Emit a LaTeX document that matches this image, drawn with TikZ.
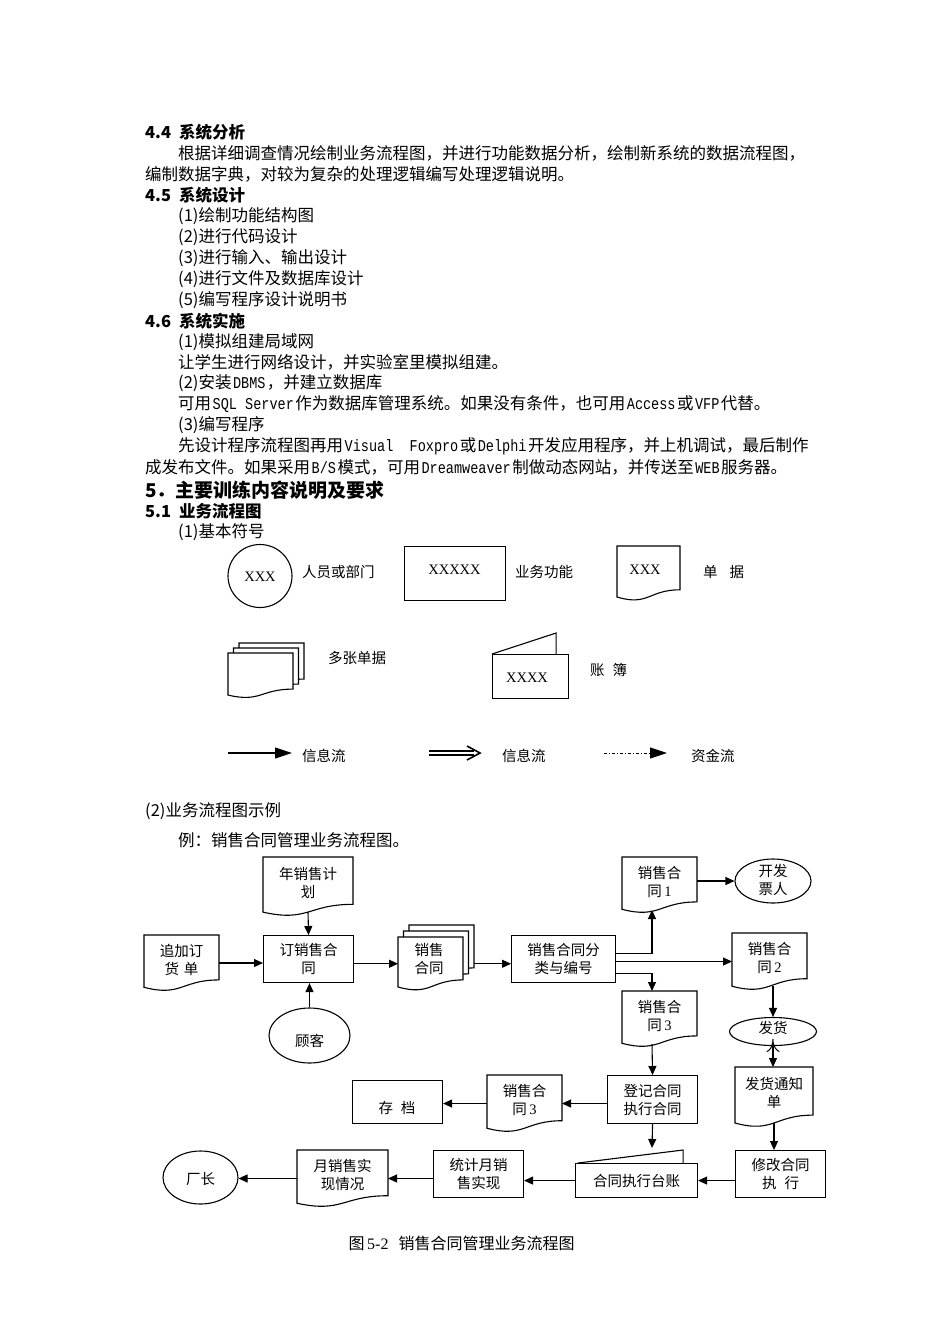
\documentclass[tikz,border=0pt]{standalone}
\usepackage{fontspec}
\setmainfont{Noto Sans CJK SC}
\newfontfamily\lserif{Liberation Serif}
\newfontfamily\lmono{Liberation Mono}[Scale=1.0, FakeStretch=0.82]
\usetikzlibrary{arrows.meta,calc,shapes.geometric}
\newcommand\mtx[1]{\hspace{1.5pt}{\lmono #1}\hspace{1.5pt}}
\newcommand\dfont{\fontsize{14.5}{18}\selectfont}
\newcommand\docout[1]{\draw[line width=1.1pt, fill=white] (#1.north west) -- (#1.north east) -- ($(#1.north east)!0.802!(#1.south east)$) .. controls ($(#1.north)!0.802!(#1.south)$) and ($(#1.north)!1.107!(#1.south)$) .. ($(#1.north west)!0.934!(#1.south west)$) -- cycle;}
\newcommand\docnode[6]{%
  \node[docbase, minimum width=#4pt, minimum height=#5pt, anchor=north west] (#1) at (#2,#3) {};
  \docout{#1}
  \node[dtext] (#1-t) at ($(#1.north)!0.44!(#1.south)$) {#6};}
\tikzset{
  body/.style={anchor=west, inner sep=0, font=\fontsize{16.5}{20}\selectfont},
  hd/.style={anchor=west, inner sep=0, font=\fontsize{16.5}{20}\selectfont\bfseries},
  docbase/.style={inner sep=0, outer sep=0, draw=none},
  dtext/.style={inner sep=0, align=center, font=\dfont},
  box/.style={draw, line width=1.1pt, inner sep=0, align=center, font=\dfont, fill=white, anchor=north west},
  ell/.style={ellipse, draw, line width=1.1pt, inner sep=0},
  lab/.style={anchor=west, inner sep=0, font=\dfont},
  xx/.style={inner sep=0, font=\lserif\fontsize{14.5}{18}\selectfont},
  arr/.style={line width=1.1pt, -{Triangle[length=9pt,width=8pt]}},
  captext/.style={inner sep=0, font=\fontsize{16}{20}\selectfont}
}
\begin{document}
\begin{tikzpicture}[x=1pt, y=-1pt]
\useasboundingbox (0,0) rectangle (950,1344);
% ---------------- body text ----------------
\node[hd] (t1) at (145,132) {4.4\hspace{8pt}系统分析};
\node[body] (t2) at (178,153) {根据详细调查情况绘制业务流程图，并进行功能数据分析，绘制新系统的数据流程图，};
\node[body] (t3) at (145,174) {编制数据字典，对较为复杂的处理逻辑编写处理逻辑说明。};
\node[hd] (t4) at (145,195) {4.5\hspace{8pt}系统设计};
\node[body] (t5) at (178,216) {(1)绘制功能结构图};
\node[body] (t6) at (178,237) {(2)进行代码设计};
\node[body] (t7) at (178,258) {(3)进行输入、输出设计};
\node[body] (t8) at (178,279) {(4)进行文件及数据库设计};
\node[body] (t9) at (178,300) {(5)编写程序设计说明书};
\node[hd] (t10) at (145,321) {4.6\hspace{8pt}系统实施};
\node[body] (t11) at (178,342) {(1)模拟组建局域网};
\node[body] (t12) at (178,362) {让学生进行网络设计，并实验室里模拟组建。};
\node[body] (t13) at (178,383) {(2)安装\mtx{DBMS}，并建立数据库};
\node[body] (t14) at (178,404) {可用\mtx{SQL Server}作为数据库管理系统。如果没有条件，也可用\mtx{Access}或\mtx{VFP}代替。};
\node[body] (t15) at (178,425) {(3)编写程序};
\node[body] (t16) at (178,446) {先设计程序流程图再用\mtx{Visual\ \ Foxpro}或\mtx{Delphi}开发应用程序，并上机调试，最后制作};
\node[body] (t17) at (145,467) {成发布文件。如果采用\mtx{B/S}模式，可用\mtx{Dreamweaver}制做动态网站，并传送至\mtx{WEB}服务器。};
\node[anchor=west, inner sep=0, font=\fontsize{19}{22}\selectfont\bfseries] (t18) at (145,490) {5．主要训练内容说明及要求};
\node[hd] (t19) at (145,511) {5.1\hspace{8pt}业务流程图};
\node[body] (t20) at (178,532) {(1)基本符号};
% ---------------- basic symbols ----------------
\node[ell, minimum width=64pt, minimum height=63pt] (se) at (260,576) {};
\node[xx] (se-t) at (260,577) {XXX};
\node[lab] (sl1) at (302,572) {人员或部门};
\node[box, minimum width=101pt, minimum height=54pt] (sr) at (404,546) {};
\node[xx] (sr-t) at (454.5,570) {XXXXX};
\node[lab] (sl2) at (515,572) {业务功能};
\node[docbase, minimum width=63pt, minimum height=54.6pt, anchor=north west] (sd) at (617,546) {};
\docout{sd}
\node[xx] (sd-t) at (645,570) {XXX};
\node[lab] (sl3) at (703,572) {单\hspace{12pt}据};
\node[docbase, minimum width=65pt, minimum height=45pt, anchor=north west] (sm3) at (239,643) {};
\docout{sm3}
\node[docbase, minimum width=65pt, minimum height=45pt, anchor=north west] (sm2) at (233.5,648) {};
\docout{sm2}
\node[docbase, minimum width=65pt, minimum height=45pt, anchor=north west] (sm1) at (228,653) {};
\docout{sm1}
\node[lab] (sl4) at (328,658) {多张单据};
\node[box, minimum width=76pt, minimum height=44pt] (sb) at (492,654) {};
\draw[line width=1.1pt] (sb.north west) -- ([xshift=-13pt,yshift=21pt]sb.north east) -- ([xshift=-13pt]sb.north east);
\node[xx] (sb-t) at (527,678) {XXXX};
\node[lab] (sl5) at (590,670) {账\hspace{8pt}簿};
% arrows legend
\coordinate (a1s) at (228,753); \coordinate (a1e) at (292,753);
\draw[line width=1.1pt, -{Triangle[length=17pt,width=11pt]}] (a1s) -- (a1e);
\node[lab] (al1) at (302,756) {信息流};
\coordinate (a2s) at (429,753); \coordinate (a2e) at (480,753);
\draw[line width=1.1pt] ([yshift=2pt]a2s) -- ([xshift=-6pt,yshift=2pt]a2e);
\draw[line width=1.1pt] ([yshift=-2pt]a2s) -- ([xshift=-6pt,yshift=-2pt]a2e);
\draw[line width=1.6pt, line join=miter] ([xshift=-13pt,yshift=7pt]a2e) -- (a2e) -- ([xshift=-13pt,yshift=-7pt]a2e);
\node[lab] (al2) at (502,756) {信息流};
\coordinate (a3s) at (604,753); \coordinate (a3e) at (667,753);
\draw[line width=1pt, dash pattern=on 3pt off 2pt on 1pt off 2pt, -{Triangle[length=17pt,width=11pt]}] (a3s) -- (a3e);
\node[lab] (al3) at (691,756) {资金流};
\node[body] (t21) at (145,811) {(2)业务流程图示例};
\node[body] (t22) at (178,840) {例：销售合同管理业务流程图。};
% ---------------- flowchart ----------------
\docnode{ny}{263}{857}{90}{59}{年销售计\\划}
\docnode{zj}{144}{935}{75}{56}{追加订\\货\hspace{5pt}单}
\node[box, minimum width=90pt, minimum height=47pt] (dx) at (263,935) {订销售合\\同};
\node[ell, minimum width=81pt, minimum height=55pt] (gk) at (309.5,1035.5) {};
\node[dtext] (gk-t) at (309.5,1041) {顾客};
\node[docbase, minimum width=65pt, minimum height=53.5pt, anchor=north west] (mcb) at (409,925) {};
\docout{mcb}
\node[docbase, minimum width=65pt, minimum height=53.5pt, anchor=north west] (mcm) at (403.5,931) {};
\docout{mcm}
\node[docbase, minimum width=65pt, minimum height=53.5pt, anchor=north west] (mcf) at (398,937) {};
\docout{mcf}
\node[dtext] (mcf-t) at (429,959) {销售\\合同};
\node[box, minimum width=104pt, minimum height=47pt] (fl) at (511,935) {销售合同分\\类与编号};
\docnode{d1}{622}{857}{75}{56}{销售合\\同\,{\lserif 1}}
\node[ell, minimum width=76pt, minimum height=44pt] (kf) at (773,881) {};
\node[dtext] (kf-t) at (773,880) {开发\\票人};
\docnode{d2}{732}{933}{75}{57}{销售合\\同\,{\lserif 2}}
\docnode{d3}{622}{991}{75}{56}{销售合\\同\,{\lserif 3}}
\node[ell, minimum width=87pt, minimum height=28pt] (fh) at (773,1031.5) {};
\node[dtext] (fh-t) at (773,1037) {发货\\人};
\docnode{fz}{735}{1067}{78}{60}{发货通知\\单}
\node[box, minimum width=90pt, minimum height=48pt] (dj) at (607,1075) {登记合同\\执行合同};
\docnode{d3b}{487}{1075}{75}{57}{销售合\\同\,{\lserif 3}}
\node[box, minimum width=90pt, minimum height=43pt] (cd) at (352,1080) {};
\node[dtext] (cd-t) at (397,1108) {存\hspace{8pt}档};
\node[box, minimum width=90pt, minimum height=47pt] (xg) at (735,1150) {修改合同\\执\hspace{8pt}行};
\node[box, minimum width=122pt, minimum height=34pt] (tz) at (575,1163) {合同执行台账};
\draw[line width=1.1pt] ([xshift=3pt]tz.north west) -- ([xshift=-15pt,yshift=13pt]tz.north east) -- ([xshift=-15pt]tz.north east);
\coordinate (tzin) at (652,1148);
\node[box, minimum width=90pt, minimum height=47pt] (tj) at (433,1150) {统计月销\\售实现};
\docnode{ys}{297}{1150}{91}{57}{月销售实\\现情况}
\node[ell, minimum width=75pt, minimum height=53pt] (cz) at (200.5,1177.5) {};
\node[dtext] (cz-t) at (200.5,1179) {厂长};
\node[captext] (caption) at (461.5,1243) {图\,{\lserif 5-2}\hspace{10pt}销售合同管理业务流程图};
% connectors
\draw[arr] ($(ny.north)!0.933!(ny.south)$) -- (dx.north);
\draw[arr] (zj.east) -- (zj.east -| dx.west);
\draw[arr] (gk.north) -- (gk.north |- dx.south);
\draw[arr] (mcf.west -| dx.east) -- (mcf.west);
\draw[arr] (mcf.west -| mcb.east) -- (mcf.west -| fl.west);
\draw[arr] ([yshift=5.5pt]fl.east) -| ([xshift=-7.5pt,yshift=3pt]d1.south);
\draw[arr] (d1.east |- kf.west) -- (kf.west);
\draw[arr] (d2.west -| fl.east) -- (d2.west);
\draw[arr] ([yshift=-14.5pt]fl.east) -| ([xshift=-7.5pt]d3.north);
\draw[arr] ([xshift=-7.5pt,yshift=3pt]d3.south) -- (dj.north);
\draw[arr] (d3b.east -| dj.west) -- (d3b.east);
\draw[arr] (d3b.west) -- (d3b.west -| cd.east);
\draw[arr] (dj.south) -- (tzin);
\draw[arr] ([yshift=4pt]d2.south -| fh.north) -- (fh.north);
\draw[arr] (fh.south) -- (fh.south |- fz.north);
\draw[arr] ([yshift=4pt]fz.south) -- (fz.south |- xg.north);
\draw[arr] (xg.west |- tz.east) -- (tz.east);
\draw[arr] (tz.west) -- (tz.west -| tj.east);
\draw[arr] (ys.east -| tj.west) -- (ys.east);
\draw[arr] (ys.west) -- (ys.west -| cz.east);
\end{tikzpicture}
\end{document}
